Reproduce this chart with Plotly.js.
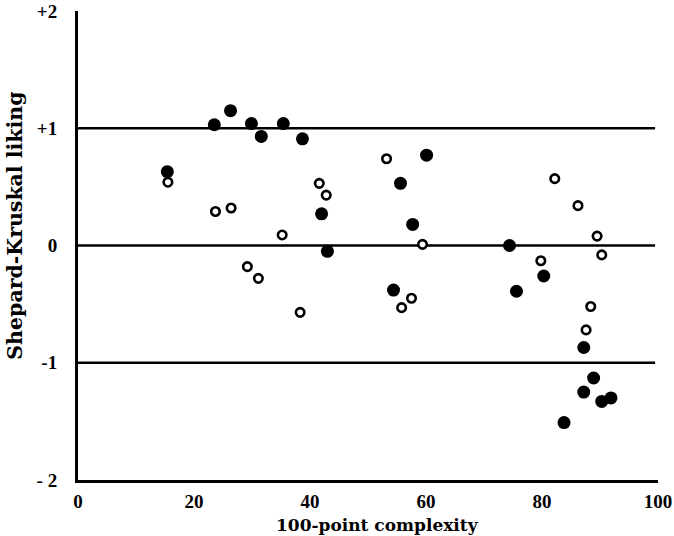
<!DOCTYPE html>
<html>
<head>
<meta charset="utf-8">
<script src="https://cdn.plot.ly/plotly-3.0.1.min.js"></script>
<style>html,body{margin:0;padding:0;background:#fff;}#chart{width:674px;height:536px;}</style>
</head>
<body>
<div id="chart"></div>
<script>
// Filled points (complexity, liking)
const filledX = [15.4, 23.5, 26.3, 29.9, 31.6, 35.4, 38.7, 42.0, 43.0, 54.4, 55.6, 57.7, 60.1, 74.4, 75.6, 80.3, 83.8, 87.2, 87.2, 88.9, 90.3, 91.9];
const filledY = [0.63, 1.03, 1.15, 1.04, 0.93, 1.04, 0.91, 0.27, -0.05, -0.38, 0.53, 0.18, 0.77, 0.00, -0.39, -0.26, -1.51, -0.87, -1.25, -1.13, -1.33, -1.30];
// Open points
const openX = [15.5, 23.7, 26.4, 29.2, 31.1, 35.2, 38.3, 41.6, 42.8, 53.2, 55.8, 57.5, 59.4, 79.8, 82.2, 86.2, 87.6, 88.4, 89.5, 90.3];
const openY = [0.54, 0.29, 0.32, -0.18, -0.28, 0.09, -0.57, 0.53, 0.43, 0.74, -0.53, -0.45, 0.01, -0.13, 0.57, 0.34, -0.72, -0.52, 0.08, -0.08];
// Reference lines
const refLines = [1, 0, -1];
// Tick labels
const xTickVals = [0, 20, 40, 60, 80, 100];
const xTickText = ["0", "20", "40", "60", "80", "100"];
const yTickVals = [2, 1, 0, -1, -2];
const yTickText = ["+2", "+1", "0", "-1", "- 2"];
const xTitle = "100-point complexity";
const yTitle = "Shepard-Kruskal liking";

const tickFont = {family: "Liberation Serif, serif", size: 19, color: "#000", weight: "bold"};

const traces = [
  {x: filledX, y: filledY, type: "scatter", mode: "markers",
   marker: {symbol: "circle", size: 13, color: "#000", line: {width: 0}}, hoverinfo: "x+y"},
  {x: openX, y: openY, type: "scatter", mode: "markers",
   marker: {symbol: "circle", size: 8.5, color: "#fff", line: {width: 2.6, color: "#000"}}, hoverinfo: "x+y"}
];

const shapes = refLines.map(v => ({type: "line", xref: "paper", yref: "y", x0: 0, x1: 0.995, y0: v, y1: v,
  line: {color: "#000", width: 2.6}, layer: "below"}));

const layout = {
  width: 674, height: 536,
  margin: {l: 78, r: 16, t: 11, b: 56},
  paper_bgcolor: "#fff", plot_bgcolor: "#fff",
  showlegend: false,
  shapes: shapes,
  xaxis: {
    range: [0, 100], tickvals: xTickVals, ticktext: xTickText,
    showgrid: false, zeroline: false, showline: true, linecolor: "#000", linewidth: 3,
    ticks: "", tickfont: tickFont, ticklabelstandoff: 2
  },
  yaxis: {
    range: [-2, 2], tickvals: yTickVals, ticktext: yTickText,
    showgrid: false, zeroline: false, showline: true, linecolor: "#000", linewidth: 3,
    ticks: "", tickfont: tickFont, ticklabelstandoff: 14, ticklabeloverflow: "allow"
  },
  annotations: [{
    text: yTitle, xref: "paper", yref: "paper", x: -0.108, y: 0.543,
    xanchor: "center", yanchor: "middle", textangle: -90, showarrow: false,
    font: {family: "DejaVu Serif, serif", size: 20.5, color: "#000", weight: "bold"}
  }, {
    text: xTitle, xref: "paper", yref: "paper", x: 0.517, y: -0.097,
    xanchor: "center", yanchor: "middle", showarrow: false,
    font: {family: "DejaVu Serif, serif", size: 17, color: "#000", weight: "bold"}
  }]
};

Plotly.newPlot("chart", traces, layout, {displayModeBar: false, staticPlot: true});
</script>
</body>
</html>
